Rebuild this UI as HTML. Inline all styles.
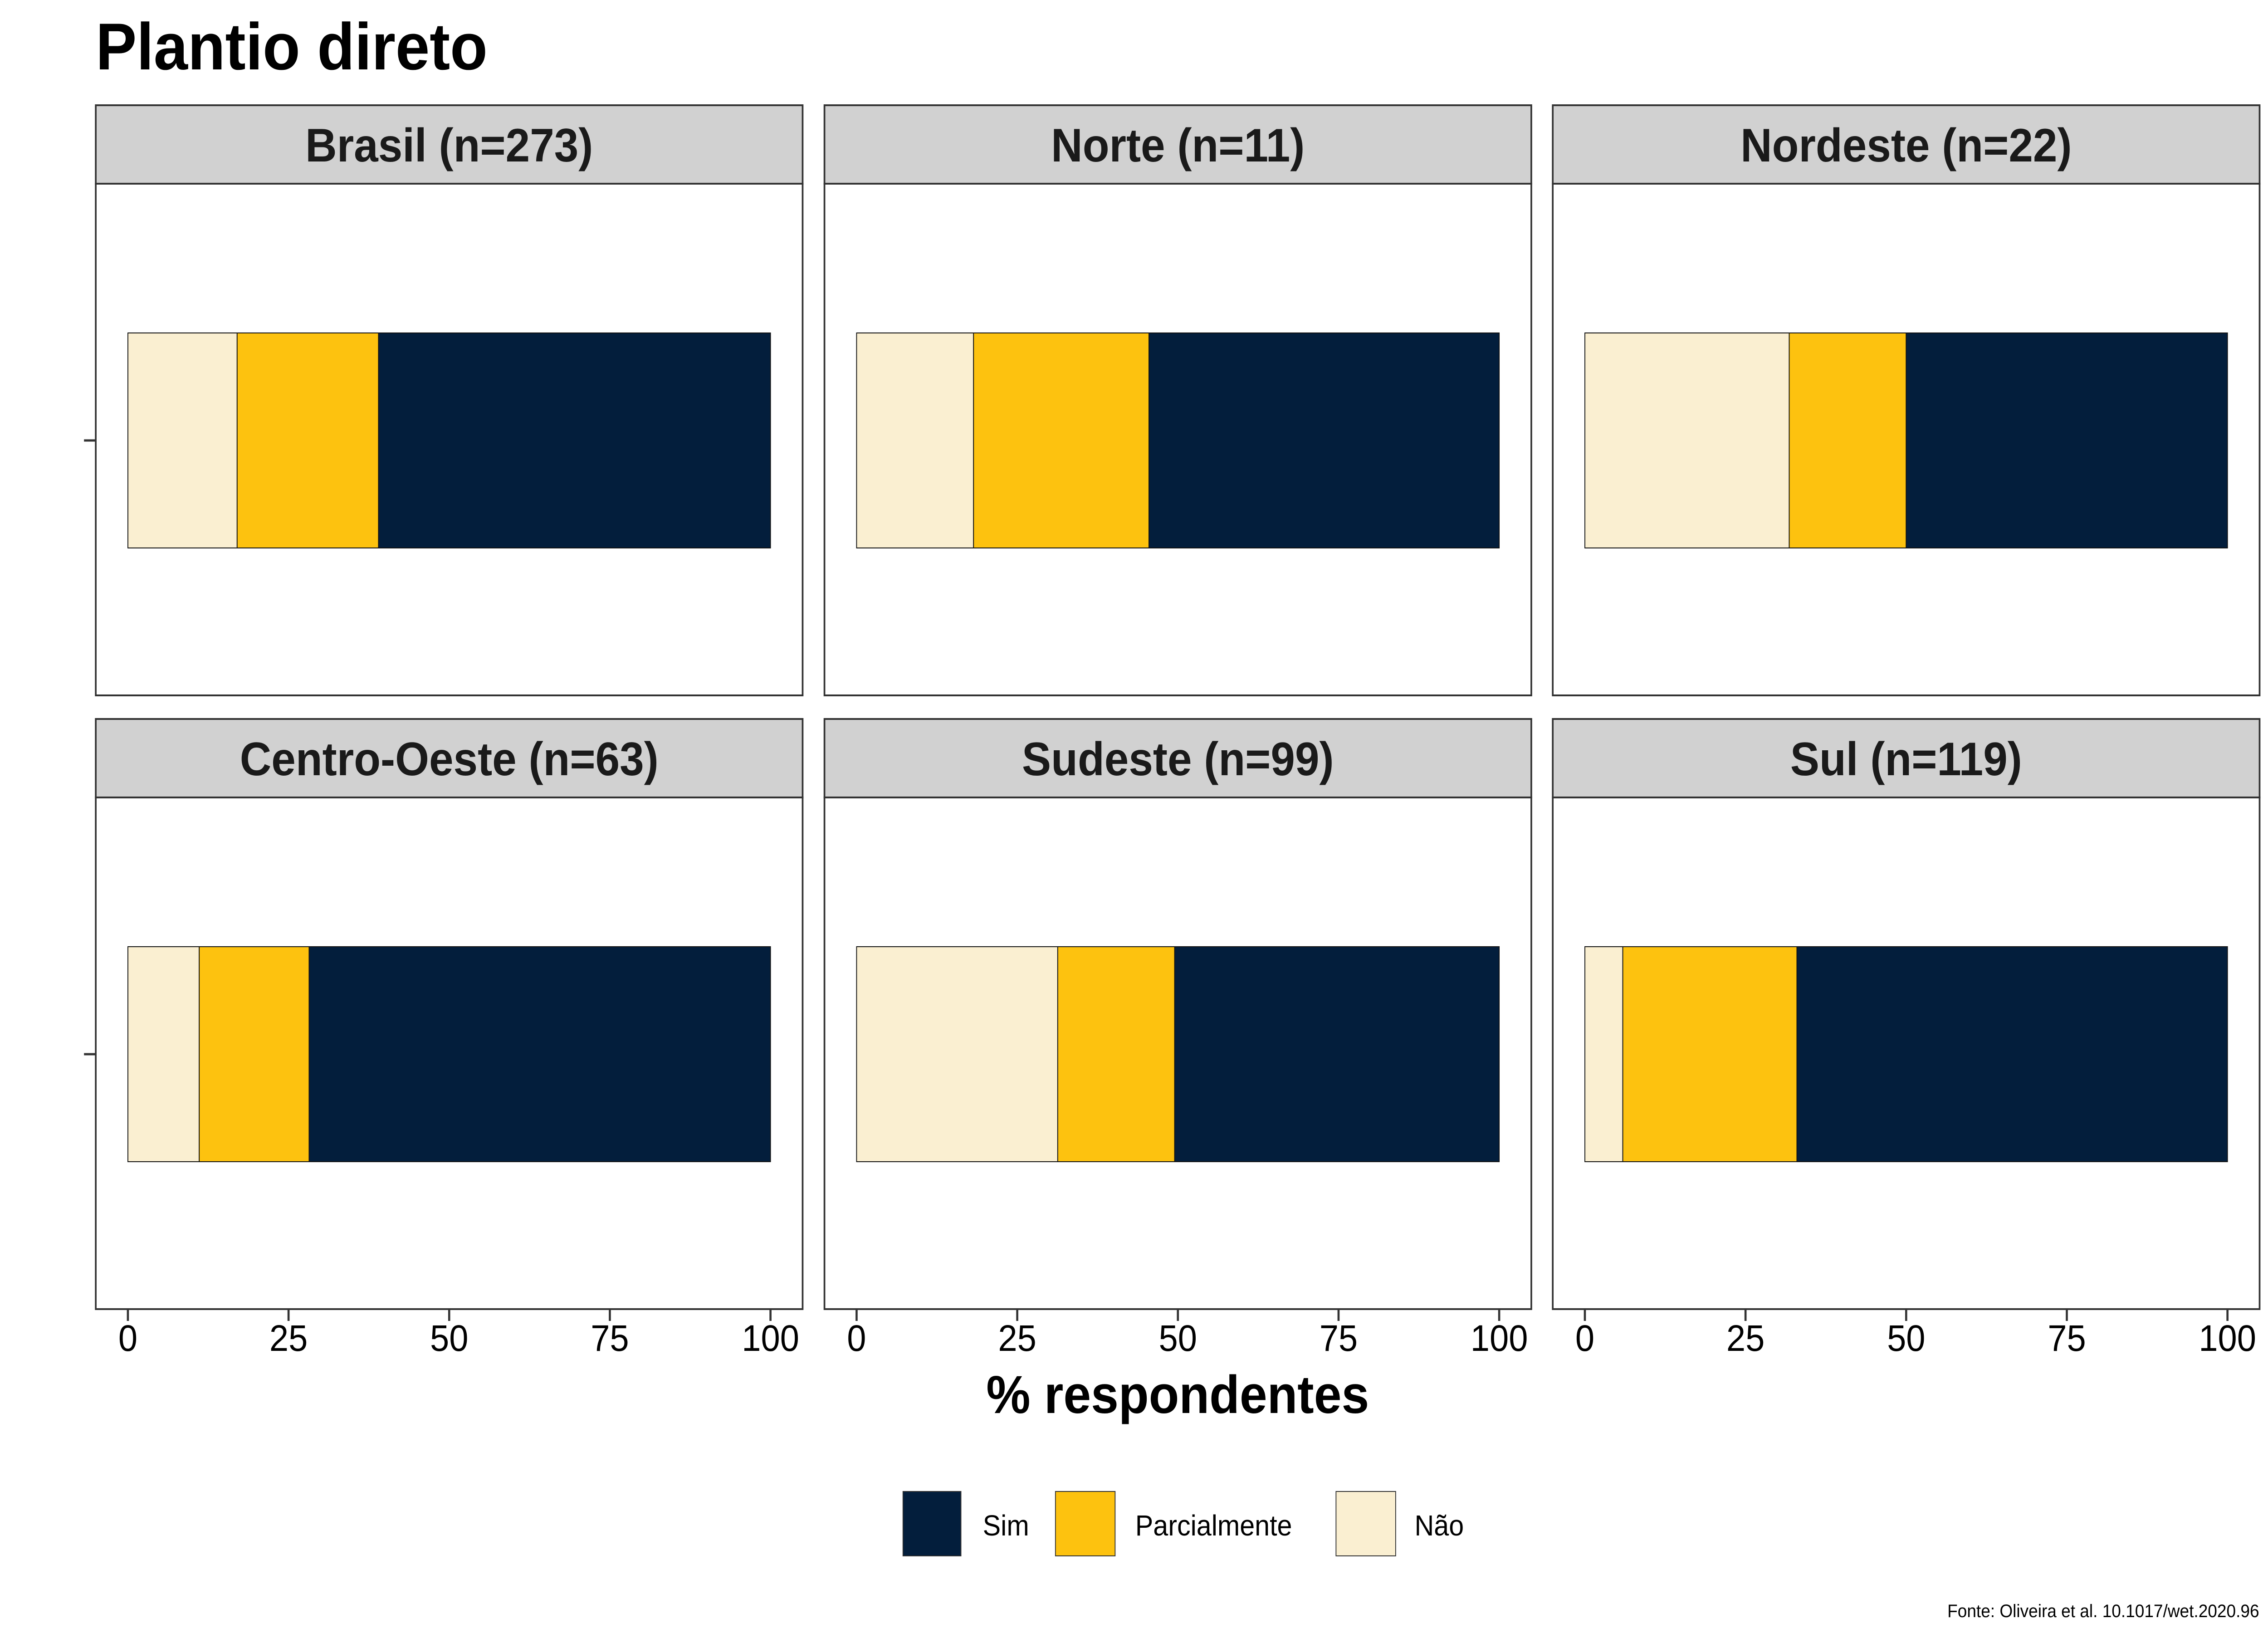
<!DOCTYPE html>
<html><head><meta charset="utf-8"><style>
html,body{margin:0;padding:0;background:#fff;overflow:hidden;width:100vw;height:100vh}
svg{display:block;width:100vw;height:100vh}
text{font-family:"Liberation Sans",Arial,sans-serif}
</style></head><body>
<svg id="chart" viewBox="0 0 5400 3600" preserveAspectRatio="none" xmlns="http://www.w3.org/2000/svg">
<text x="228" y="153" font-size="146" font-weight="bold" fill="#000">Plantio direto</text>
<g id="panels"></g>
<text x="2804" y="3115" font-size="118" font-weight="bold" text-anchor="middle">% respondentes</text>
<g>
<rect x="2150" y="3288" width="138" height="142" fill="#031e3c" stroke="#333" stroke-width="2"/>
<text x="2340" y="3385" font-size="64">Sim</text>
<rect x="2513" y="3288" width="142" height="142" fill="#fdc20f" stroke="#333" stroke-width="2"/>
<text x="2703" y="3385" font-size="64">Parcialmente</text>
<rect x="3181" y="3288" width="142" height="142" fill="#faefd1" stroke="#333" stroke-width="2"/>
<text x="3368" y="3385" font-size="64">Não</text>
</g>
<text x="5379" y="3565" font-size="40" text-anchor="end">Fonte: Oliveira et al. 10.1017/wet.2020.96</text>
</svg>
<script>
const regions = ["Brasil (n=273)","Norte (n=11)","Nordeste (n=22)","Centro-Oeste (n=63)","Sudeste (n=99)","Sul (n=119)"];
const naoVals = [17.0, 18.2, 31.8, 11.1, 31.3, 5.9];
const parcVals = [22.0, 27.3, 18.2, 17.1, 18.2, 27.1];
const simVals = [61.0, 54.5, 50.0, 71.8, 50.5, 67.0];
const xTicks = [0, 25, 50, 75, 100];

const NS = "http://www.w3.org/2000/svg";
const g = document.getElementById("panels");
const colX = [228, 1963, 3697], PW = 1683;
const rowStrip = [232, 1585], STRIPH = 173, PH = 1128;
const cols = {nao:"#faefd1", parc:"#fdc20f", sim:"#031e3c"};
function mk(tag, attrs, parent){const e=document.createElementNS(NS,tag);for(const k in attrs)e.setAttribute(k,attrs[k]);(parent||g).appendChild(e);return e;}

regions.forEach((name,i)=>{
  const c=i%3, r=Math.floor(i/3);
  const x0=colX[c], sTop=rowStrip[r], pTop=sTop+STRIPH;
  const xs = v => x0 + (v+5)/110*PW;
  const strip=mk("rect",{x:x0,y:sTop,width:PW,height:STRIPH,fill:"#d1d1d1",stroke:"#333",'stroke-width':4});
  
  
  const st=mk("text",{x:x0+PW/2,y:sTop+124,'font-size':104,'font-weight':'bold','text-anchor':'middle',fill:'#1a1a1a'});
  st.textContent=name;
  
  
  const panel=mk("rect",{x:x0,y:pTop,width:PW,height:PH,fill:"#fff",stroke:"#333",'stroke-width':4});
  
  
  const by=pTop+329, bh=474;
  const segs=[["nao",0,naoVals[i]],["parc",naoVals[i],naoVals[i]+parcVals[i]],["sim",naoVals[i]+parcVals[i],naoVals[i]+parcVals[i]+simVals[i]]];
  segs.forEach(s=>{
    const b=mk("rect",{x:xs(s[1]),y:by,width:xs(s[2])-xs(s[1]),height:bh,fill:cols[s[0]],stroke:"#111",'stroke-width':2});
    
    
  });
  if(c===0){
    const t=mk("line",{x1:x0-28,x2:x0,y1:by+bh/2,y2:by+bh/2,stroke:"#333",'stroke-width':5});
    
    
  }
  if(r===1){
    xTicks.forEach(v=>{
      const tl=mk("line",{x1:xs(v),x2:xs(v),y1:pTop+PH,y2:pTop+PH+26,stroke:"#333",'stroke-width':5});
      
      
      const tx=mk("text",{x:xs(v),y:pTop+PH+92,'font-size':82,'text-anchor':'middle',fill:'#000'});
      tx.textContent=v;
      
      
    });
  }
});
</script>
</body></html>
